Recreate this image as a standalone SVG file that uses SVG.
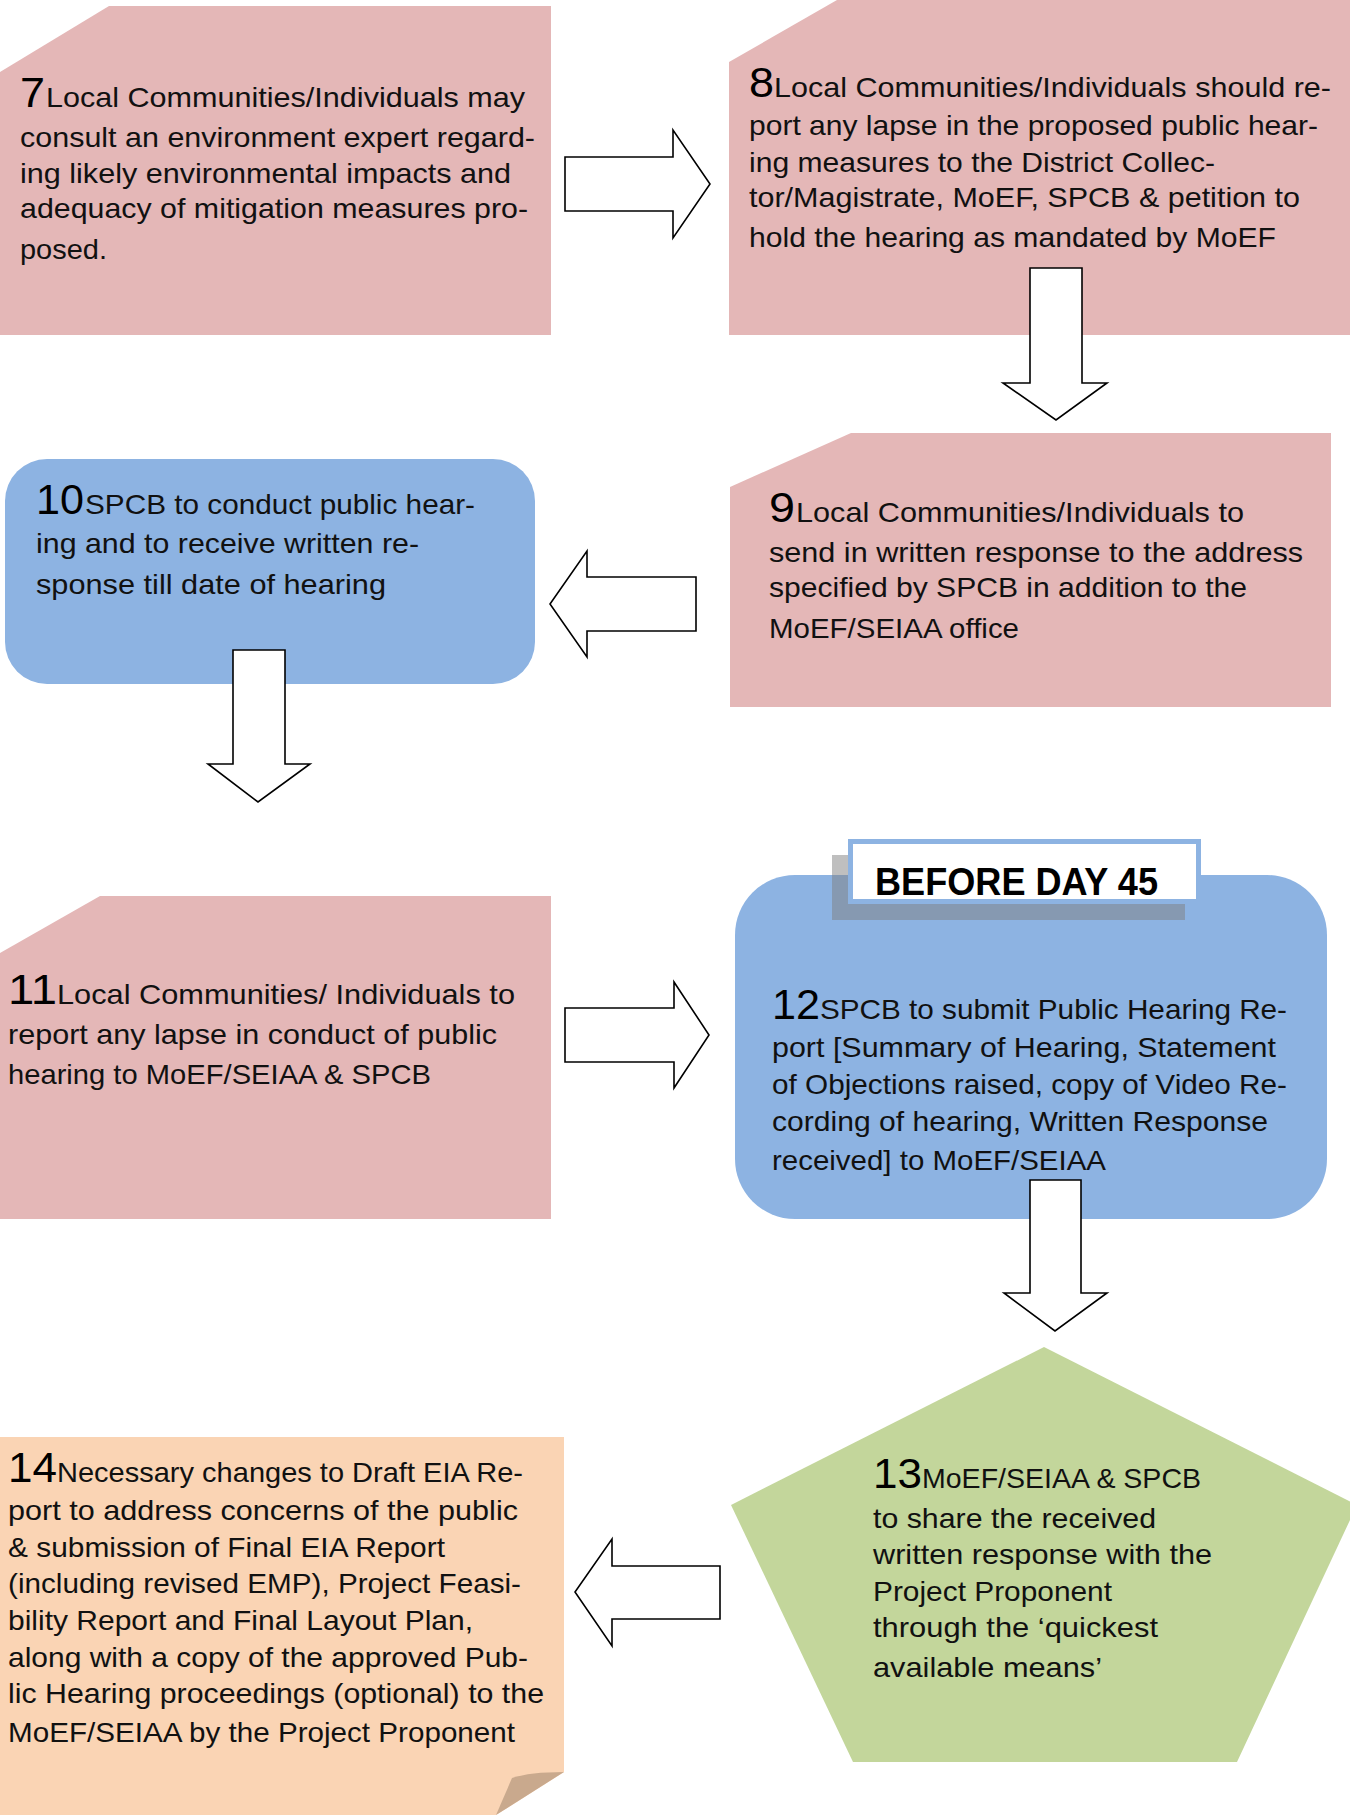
<svg xmlns="http://www.w3.org/2000/svg" width="1350" height="1815" viewBox="0 0 1350 1815">
<style>
.pink{fill:#e4b7b7}
.blue{fill:#8db3e2}
.green{fill:#c3d69b}
.peach{fill:#fad4b4}
.t{font-family:"Liberation Sans",Arial,sans-serif;font-size:28px;fill:#111}
.n{font-family:"Liberation Sans",Arial,sans-serif;font-size:42px;fill:#000}
.arr{fill:#fff;stroke:#000;stroke-width:1.6;stroke-linejoin:miter}
.lbl{font-family:"Liberation Sans",Arial,sans-serif;font-size:39px;font-weight:bold;fill:#000}
</style>
<rect width="1350" height="1815" fill="#fff"/>

<g id="node7">
<polygon class="pink" points="0,72 109,6 551,6 551,335 0,335"/>
<text class="n" x="20" y="107" textLength="25" lengthAdjust="spacingAndGlyphs">7</text>
<text class="t" x="46" y="107" textLength="479" lengthAdjust="spacingAndGlyphs">Local Communities/Individuals may</text>
<text class="t" x="20" y="147" textLength="515" lengthAdjust="spacingAndGlyphs">consult an environment expert regard-</text>
<text class="t" x="20" y="183" textLength="491" lengthAdjust="spacingAndGlyphs">ing likely environmental impacts and</text>
<text class="t" x="20" y="218" textLength="508" lengthAdjust="spacingAndGlyphs">adequacy of mitigation measures pro-</text>
<text class="t" x="20" y="259" textLength="87" lengthAdjust="spacingAndGlyphs">posed.</text>
</g>

<g id="node8">
<polygon class="pink" points="729,62 837,0 1350,0 1350,335 729,335"/>
<text class="n" x="749" y="97" textLength="25" lengthAdjust="spacingAndGlyphs">8</text>
<text class="t" x="774" y="97" textLength="557" lengthAdjust="spacingAndGlyphs">Local Communities/Individuals should re-</text>
<text class="t" x="749" y="135" textLength="569" lengthAdjust="spacingAndGlyphs">port any lapse in the proposed public hear-</text>
<text class="t" x="749" y="172" textLength="466" lengthAdjust="spacingAndGlyphs">ing measures to the District Collec-</text>
<text class="t" x="749" y="207" textLength="551" lengthAdjust="spacingAndGlyphs">tor/Magistrate, MoEF, SPCB &amp; petition to</text>
<text class="t" x="749" y="247" textLength="527" lengthAdjust="spacingAndGlyphs">hold the hearing as mandated by MoEF</text>
</g>

<g id="node9">
<polygon class="pink" points="730,487 851,433 1331,433 1331,707 730,707"/>
<text class="n" x="769" y="522" textLength="26" lengthAdjust="spacingAndGlyphs">9</text>
<text class="t" x="796" y="522" textLength="448" lengthAdjust="spacingAndGlyphs">Local Communities/Individuals to</text>
<text class="t" x="769" y="562" textLength="534" lengthAdjust="spacingAndGlyphs">send in written response to the address</text>
<text class="t" x="769" y="597" textLength="478" lengthAdjust="spacingAndGlyphs">specified by SPCB in addition to the</text>
<text class="t" x="769" y="638" textLength="250" lengthAdjust="spacingAndGlyphs">MoEF/SEIAA office</text>
</g>

<g id="node10">
<rect class="blue" x="5" y="459" width="530" height="225" rx="42" ry="42"/>
<text class="n" x="36" y="514" textLength="48" lengthAdjust="spacingAndGlyphs">10</text>
<text class="t" x="85" y="514" textLength="390" lengthAdjust="spacingAndGlyphs">SPCB to conduct public hear-</text>
<text class="t" x="36" y="553" textLength="383" lengthAdjust="spacingAndGlyphs">ing and to receive written re-</text>
<text class="t" x="36" y="594" textLength="350" lengthAdjust="spacingAndGlyphs">sponse till date of hearing</text>
</g>

<g id="node11">
<polygon class="pink" points="0,953 100,896 551,896 551,1219 0,1219"/>
<text class="n" x="8" y="1004" textLength="49" lengthAdjust="spacingAndGlyphs">11</text>
<text class="t" x="57" y="1004" textLength="458" lengthAdjust="spacingAndGlyphs">Local Communities/ Individuals to</text>
<text class="t" x="8" y="1044" textLength="489" lengthAdjust="spacingAndGlyphs">report any lapse in conduct of public</text>
<text class="t" x="8" y="1084" textLength="423" lengthAdjust="spacingAndGlyphs">hearing to MoEF/SEIAA &amp; SPCB</text>
</g>

<g id="node12">
<rect class="blue" x="735" y="875" width="592" height="344" rx="60" ry="60"/>
<text class="n" x="772" y="1019" textLength="48" lengthAdjust="spacingAndGlyphs">12</text>
<text class="t" x="820" y="1019" textLength="467" lengthAdjust="spacingAndGlyphs">SPCB to submit Public Hearing Re-</text>
<text class="t" x="772" y="1057" textLength="504" lengthAdjust="spacingAndGlyphs">port [Summary of Hearing, Statement</text>
<text class="t" x="772" y="1094" textLength="515" lengthAdjust="spacingAndGlyphs">of Objections raised, copy of Video Re-</text>
<text class="t" x="772" y="1131" textLength="496" lengthAdjust="spacingAndGlyphs">cording of hearing, Written Response</text>
<text class="t" x="772" y="1170" textLength="334" lengthAdjust="spacingAndGlyphs">received] to MoEF/SEIAA</text>
</g>

<g id="label45">
<rect x="832" y="855" width="353" height="65" fill="#808080" fill-opacity="0.5"/>
<rect x="850.5" y="841.5" width="348" height="60" fill="#fff" stroke="#8db3e2" stroke-width="5"/>
<text class="lbl" x="875" y="895" textLength="283" lengthAdjust="spacingAndGlyphs">BEFORE DAY 45</text>
</g>

<g id="node13">
<polygon class="green" points="1044,1347 1357,1505 1237,1762 853,1762 731,1505"/>
<text class="n" x="873" y="1488" textLength="49" lengthAdjust="spacingAndGlyphs">13</text>
<text class="t" x="922" y="1488" textLength="279" lengthAdjust="spacingAndGlyphs">MoEF/SEIAA &amp; SPCB</text>
<text class="t" x="873" y="1528" textLength="283" lengthAdjust="spacingAndGlyphs">to share the received</text>
<text class="t" x="873" y="1564" textLength="339" lengthAdjust="spacingAndGlyphs">written response with the</text>
<text class="t" x="873" y="1601" textLength="239" lengthAdjust="spacingAndGlyphs">Project Proponent</text>
<text class="t" x="873" y="1637" textLength="285" lengthAdjust="spacingAndGlyphs">through the ‘quickest</text>
<text class="t" x="873" y="1677" textLength="229" lengthAdjust="spacingAndGlyphs">available means’</text>
</g>

<g id="node14">
<polygon class="peach" points="0,1437 564,1437 564,1772 496,1815 0,1815"/>
<path d="M564,1772 Q530,1772 512,1778 L496,1815 Z" fill="#c9a98d"/>
<text class="n" x="8" y="1482" textLength="49" lengthAdjust="spacingAndGlyphs">14</text>
<text class="t" x="57" y="1482" textLength="466" lengthAdjust="spacingAndGlyphs">Necessary changes to Draft EIA Re-</text>
<text class="t" x="8" y="1520" textLength="510" lengthAdjust="spacingAndGlyphs">port to address concerns of the public</text>
<text class="t" x="8" y="1557" textLength="437" lengthAdjust="spacingAndGlyphs">&amp; submission of Final EIA Report</text>
<text class="t" x="8" y="1593" textLength="513" lengthAdjust="spacingAndGlyphs">(including revised EMP), Project Feasi-</text>
<text class="t" x="8" y="1630" textLength="465" lengthAdjust="spacingAndGlyphs">bility Report and Final Layout Plan,</text>
<text class="t" x="8" y="1667" textLength="520" lengthAdjust="spacingAndGlyphs">along with a copy of the approved Pub-</text>
<text class="t" x="8" y="1703" textLength="536" lengthAdjust="spacingAndGlyphs">lic Hearing proceedings (optional) to the</text>
<text class="t" x="8" y="1742" textLength="507" lengthAdjust="spacingAndGlyphs">MoEF/SEIAA by the Project Proponent</text>
</g>

<g id="connectors">
<polygon class="arr" points="565,157 673,157 673,130 710,184 673,238 673,211 565,211"/>
<polygon class="arr" points="1030,268 1082,268 1082,383 1107,383 1056,420 1003,383 1030,383"/>
<polygon class="arr" points="696,577 587,577 587,551 550,604 587,657 587,631 696,631"/>
<polygon class="arr" points="233,650 285,650 285,764 310,764 258,802 208,764 233,764"/>
<polygon class="arr" points="565,1008 674,1008 674,982 709,1035 674,1088 674,1062 565,1062"/>
<polygon class="arr" points="1030,1180 1081,1180 1081,1293 1107,1293 1055,1331 1004,1293 1030,1293"/>
<polygon class="arr" points="720,1566 612,1566 612,1539 575,1592 612,1646 612,1619 720,1619"/>
</g>
</svg>
